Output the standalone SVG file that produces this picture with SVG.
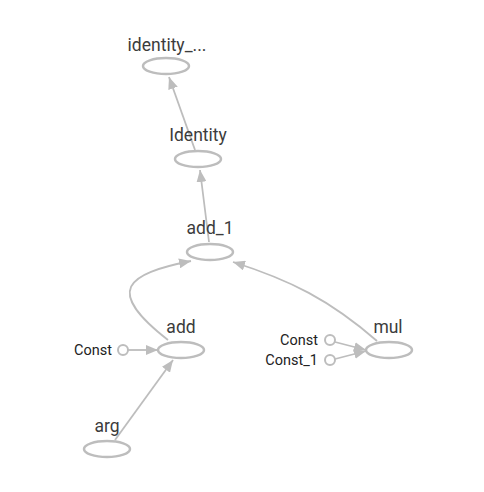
<svg xmlns="http://www.w3.org/2000/svg" width="484" height="492" viewBox="0 0 484 492">
<defs>
<marker id="arr" viewBox="0 0 12 10" refX="12" refY="5" markerWidth="12" markerHeight="10" markerUnits="userSpaceOnUse" orient="auto">
<path d="M0,0 L12,5 L0,10 Z" fill="#bdbdbd"/>
</marker>
<style>
.n{fill:#fff;stroke:#bdbdbd;stroke-width:2.5}
.c{fill:#fff;stroke:#bdbdbd;stroke-width:2}
.e{fill:none;stroke:#bdbdbd;stroke-width:1.8;marker-end:url(#arr)}
.l{font-family:Roboto,"Liberation Sans",sans-serif;font-size:17.5px;fill:#3c3c3c;text-anchor:middle}
.s{font-family:Roboto,"Liberation Sans",sans-serif;font-size:14.5px;fill:#222;text-anchor:end}
</style>
</defs>
<rect width="484" height="492" fill="#fff"/>
<g id="connectors">
<path class="e" d="M195,150 L169,77"/>
<path class="e" d="M209,242 L200,170"/>
<path class="e" d="M168,340 C104,290 126,274 191,261"/>
<path class="e" d="M377,341 C330,300 290,280 233,262"/>
<path class="e" d="M128,350 L158,350"/>
<path class="e" d="M115,440 L173,360"/>
<path class="e" d="M335,342 L366,350"/>
<path class="e" d="M335,359 L366,351"/>
</g>
<g id="identity_"><ellipse class="n" cx="166" cy="66" rx="23" ry="8"/><text class="l" x="167" y="51">identity_...</text></g>
<g id="Identity"><ellipse class="n" cx="198" cy="159" rx="23" ry="8"/><text class="l" x="198" y="141">Identity</text></g>
<g id="add_1"><ellipse class="n" cx="210" cy="252" rx="23" ry="8"/><text class="l" x="210" y="234">add_1</text></g>
<g id="add"><ellipse class="n" cx="181" cy="350" rx="23" ry="8"/><text class="l" x="181" y="333">add</text></g>
<g id="mul"><ellipse class="n" cx="389" cy="350" rx="23" ry="8"/><text class="l" x="388" y="333">mul</text></g>
<g id="arg"><ellipse class="n" cx="107" cy="449" rx="23" ry="8"/><text class="l" x="107" y="432">arg</text></g>
<g id="Const_add"><circle class="c" cx="123" cy="350" r="5"/><text class="s" x="112" y="355">Const</text></g>
<g id="Const_mul"><circle class="c" cx="330" cy="340" r="5"/><text class="s" x="318" y="345">Const</text></g>
<g id="Const_1_mul"><circle class="c" cx="330" cy="360" r="5"/><text class="s" x="318" y="365">Const_1</text></g>
</svg>
